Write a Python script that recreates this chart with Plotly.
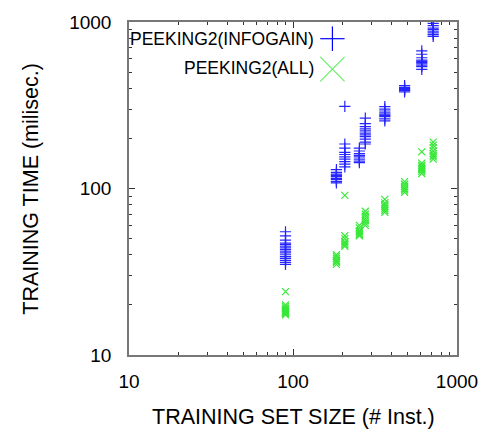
import plotly.graph_objects as go

# ---- data ----
info_x = ([90] * 16 + [184] * 9 + [207] * 10 + [254] * 8 + [276] * 11 +
          [363] * 9 + [479] * 6 + [610] * 10 + [716] * 8)
info_y = ([55, 52, 49, 47, 46, 45, 44, 43, 42, 41, 40, 39, 38, 37, 36, 35] +
          [130, 125, 122, 120, 118, 115, 113, 110, 108] +
          [311, 185, 175, 165, 160, 155, 150, 145, 140, 135] +
          [175, 168, 162, 158, 155, 150, 146, 143] +
          [265, 245, 235, 228, 222, 215, 210, 205, 198, 190, 185] +
          [310, 300, 292, 285, 280, 275, 270, 262, 255] +
          [415, 405, 398, 392, 388, 380] +
          [670, 640, 610, 590, 580, 570, 560, 550, 540, 520] +
          [980, 950, 920, 900, 880, 860, 840, 820])

all_x = ([90] * 10 + [184] * 7 + [207] * 7 + [254] * 7 + [276] * 7 +
         [363] * 7 + [479] * 6 + [610] * 8 + [716] * 8)
all_y = ([24, 20, 19.5, 19, 18.7, 18.4, 18.2, 18, 17.7, 17.4] +
         [40, 39, 38, 37, 36.5, 36, 35] +
         [91, 52, 50, 48, 47, 46, 45] +
         [60, 58, 56, 55, 54, 53, 52] +
         [73, 70, 68, 66, 64, 62, 60] +
         [86, 82, 80, 78, 76, 74, 72] +
         [110, 106, 103, 100, 98, 95] +
         [166, 142, 138, 135, 132, 130, 127, 123] +
         [190, 182, 176, 168, 162, 158, 155, 150])

series_names = ["PEEKING2(INFOGAIN)", "PEEKING2(ALL)"]
x_title = "TRAINING SET SIZE (# Inst.)"
y_title = "TRAINING TIME (milisec.)"

BLUE = "#0000ff"
GREEN = "#22e622"
LEG_GREEN = "#66ee66"
FONT = "Liberation Sans, Arial, sans-serif"

fig = go.Figure()
fig.add_trace(go.Scatter(x=info_x, y=info_y, mode="markers", name=series_names[0],
                         marker=dict(symbol="cross-thin-open", size=8, color=BLUE,
                                     line=dict(color=BLUE, width=1.2)),
                         opacity=0.85, showlegend=False))
fig.add_trace(go.Scatter(x=all_x, y=all_y, mode="markers", name=series_names[1],
                         marker=dict(symbol="x-thin-open", size=7, color=GREEN,
                                     line=dict(color=GREEN, width=1.2)),
                         opacity=0.9, showlegend=False))

axis_common = dict(
    type="log", showgrid=False, zeroline=False,
    showline=True, linecolor="#777777", linewidth=1.5, mirror="ticks",
    ticks="inside", ticklen=6, tickcolor="#333333", tickwidth=1,
    tickfont=dict(family=FONT, size=19, color="#000000"),
    dtick=1,
    minor=dict(ticks="inside", ticklen=3, tickcolor="#333333", dtick="D1", showgrid=False),
)

fig.update_xaxes(**axis_common, range=[1, 3], ticklabelstandoff=8)
fig.update_yaxes(**axis_common, range=[1, 3], ticklabelstandoff=12)

W, H = 490, 432
L, R, T, B = 129, 24, 16, 77
pw, ph = W - L - R, H - T - B


def px(x):
    return (x - L) / pw


def py(y):
    return 1 - (y - T) / ph


# axis titles
fig.add_annotation(x=px((L + W - R) / 2), y=py(418), xref="paper", yref="paper", text=x_title,
                   showarrow=False, xanchor="center", yanchor="middle",
                   font=dict(family=FONT, size=21.5, color="#000"))
fig.add_annotation(x=px(28), y=py(186), xref="paper", yref="paper", text=y_title,
                   showarrow=False, xanchor="center", yanchor="middle", textangle=-90,
                   font=dict(family=FONT, size=21.5, color="#000"))

# manual legend (text + large symbols)
fig.add_annotation(x=px(321), y=py(33), xref="paper", yref="paper", text=series_names[0],
                   showarrow=False, xanchor="right", yanchor="middle",
                   font=dict(family=FONT, size=17.5, color="#000"))
fig.add_annotation(x=px(321), y=py(63), xref="paper", yref="paper", text=series_names[1],
                   showarrow=False, xanchor="right", yanchor="middle",
                   font=dict(family=FONT, size=17.5, color="#000"))
cx, cy1, cy2, hs = 338, 33, 64, 12.5
fig.add_shape(type="line", xref="paper", yref="paper", x0=px(cx - hs), x1=px(cx + hs),
              y0=py(cy1), y1=py(cy1), line=dict(color=BLUE, width=1.2))
fig.add_shape(type="line", xref="paper", yref="paper", x0=px(cx), x1=px(cx),
              y0=py(cy1 - hs), y1=py(cy1 + hs), line=dict(color=BLUE, width=1.2))
fig.add_shape(type="line", xref="paper", yref="paper", x0=px(cx - hs), x1=px(cx + hs),
              y0=py(cy2 - hs), y1=py(cy2 + hs), line=dict(color=LEG_GREEN, width=1.2))
fig.add_shape(type="line", xref="paper", yref="paper", x0=px(cx - hs), x1=px(cx + hs),
              y0=py(cy2 + hs), y1=py(cy2 - hs), line=dict(color=LEG_GREEN, width=1.2))

fig.update_layout(
    width=W, height=H,
    margin=dict(l=L, r=R, t=T, b=B),
    paper_bgcolor="white", plot_bgcolor="white",
    font=dict(family=FONT, size=17, color="#000"),
)

fig.write_html("out.html")
